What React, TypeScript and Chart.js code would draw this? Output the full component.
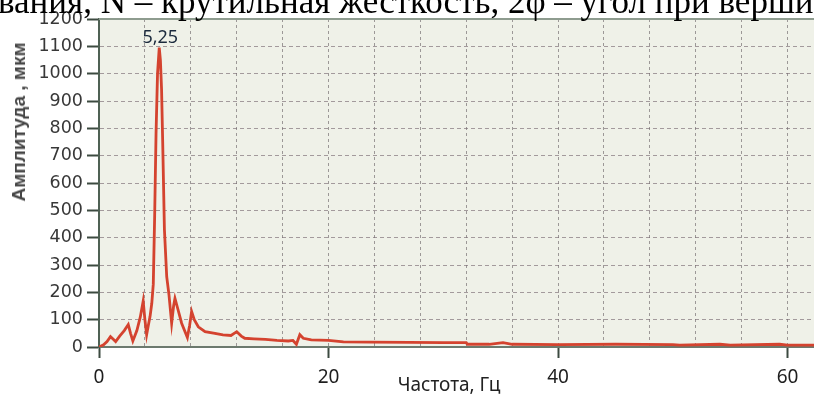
import React, { useEffect, useRef } from 'react';
import { Chart, registerables } from 'chart.js';

Chart.register(...registerables);

// Frequency (Hz) and amplitude (µm)
const freqs = [0, 0.4, 0.7, 1.0, 1.2, 1.45, 1.8, 2.2, 2.55, 2.75, 2.95, 3.3, 3.6, 3.85, 4.0, 4.15, 4.3, 4.45, 4.6, 4.73, 4.85, 4.97, 5.1, 5.25, 5.35, 5.45, 5.55, 5.7, 5.9, 6.1, 6.33, 6.5, 6.62, 6.8, 7.2, 7.7, 7.9, 8.07, 8.3, 8.65, 9.24, 10.1, 10.8, 11.5, 12.0, 12.4, 12.7, 13.5, 14.5, 15.5, 16.5, 16.9, 17.2, 17.5, 17.8, 18.5, 20, 21.3, 23.6, 27, 30, 32, 32.1, 34, 35.2, 36, 40, 45, 50, 50.6, 54.1, 55, 59.3, 60, 62.3];
const amps = [0, 8, 20, 38, 30, 20, 40, 60, 82, 50, 22, 60, 110, 168, 100, 45, 80, 112, 160, 230, 480, 780, 1000, 1095, 1050, 945, 750, 430, 257, 190, 87, 150, 178, 150, 87, 35, 80, 130, 100, 74, 56, 50, 44, 42, 56, 40, 32, 30, 28, 24, 22, 24, 10, 45, 32, 26, 24, 19, 18, 17, 16, 16, 10, 10, 16, 10, 9, 10, 9, 7, 10, 7, 10, 7, 7];

const xMin = 0;
const xMax = 62.3;
const xGridStep = 4;
const xLabelStep = 20;
const yMin = 0;
const yMax = 1200;
const yStep = 100;

const headerText = 'вания, N – крутильная жесткость, 2φ – угол при верши';
const yTitle = 'Амплитуда , мкм';
const xTitle = 'Частота, Гц';

export default function App() {
  const ref = useRef<HTMLCanvasElement | null>(null);

  useEffect(() => {
    if (!ref.current) return;
    const data = freqs.map((f, i) => ({ x: f, y: amps[i] }));

    const bgPlugin = {
      id: 'plotBg',
      beforeDraw(chart: any) {
        const { ctx, chartArea } = chart;
        ctx.save();
        ctx.fillStyle = '#eff1e8';
        ctx.fillRect(chartArea.left, chartArea.top, chartArea.right - chartArea.left, chartArea.bottom - chartArea.top);
        ctx.restore();
      },
      beforeDatasetsDraw(chart: any) {
        const { ctx, chartArea } = chart;
        ctx.save();
        ctx.strokeStyle = '#8e9c8f';
        ctx.lineWidth = 2;
        ctx.beginPath();
        ctx.moveTo(chartArea.left, chartArea.top);
        ctx.lineTo(chartArea.right, chartArea.top);
        ctx.stroke();
        ctx.restore();
      },
    };

    const peakPlugin = {
      id: 'peakLabel',
      afterDatasetsDraw(chart: any) {
        const meta = chart.getDatasetMeta(0);
        let idx = 0;
        amps.forEach((a, i) => { if (a > amps[idx]) idx = i; });
        const pt = meta.data[idx];
        if (!pt) return;
        const { ctx } = chart;
        ctx.save();
        ctx.font = '18px "Noto Sans"';
        ctx.fillStyle = '#1b2a3d';
        ctx.textAlign = 'center';
        ctx.textBaseline = 'alphabetic';
        ctx.fillText(freqs[idx].toFixed(2).replace('.', ','), pt.x + 1, pt.y - 5);
        ctx.restore();
      },
    };

    const chart = new Chart(ref.current, {
      type: 'line',
      data: {
        datasets: [
          {
            data,
            borderColor: '#d4432f',
            borderWidth: 2.8,
            pointRadius: 0,
            tension: 0,
            fill: false,
          },
        ],
      },
      options: {
        animation: false,
        responsive: false,
        maintainAspectRatio: false,
        layout: { padding: { top: 19, right: 0, bottom: 0, left: 0 } },
        plugins: { legend: { display: false }, tooltip: { enabled: false }, title: { display: false } },
        scales: {
          x: {
            type: 'linear',
            min: xMin,
            max: xMax,
            afterFit: (s: any) => { s.height = 47; },
            ticks: {
              stepSize: xGridStep,
              includeBounds: false,
              autoSkip: false,
              maxRotation: 0,
              padding: 8,
              color: '#1e1e1e',
              font: { family: '"Noto Sans"', size: 19 },
              callback: (v: any) => (Number(v) % xLabelStep === 0 ? String(v) : ''),
            },
            grid: {
              color: (c: any) => (c.tick && c.tick.value === 0 ? 'rgba(0,0,0,0)' : 'rgba(110,104,108,0.65)'),
              lineWidth: 1,
              tickLength: 11,
              tickWidth: 2,
              tickColor: (c: any) => (c.tick && c.tick.value % xLabelStep === 0 ? '#3c4a40' : 'rgba(0,0,0,0)'),
            },
            border: { display: true, color: '#6c7a6e', width: 2, dash: [3, 3] },
          },
          y: {
            type: 'linear',
            min: yMin,
            max: yMax,
            afterFit: (s: any) => { s.width = 99; },
            ticks: {
              stepSize: yStep,
              padding: 4,
              color: '#383838',
              font: { family: '"DejaVu Sans"', size: 17.5 },
              callback: (v: any) => String(v),
            },
            grid: {
              color: (c: any) => (c.tick && (c.tick.value === yMin || c.tick.value === yMax) ? 'rgba(0,0,0,0)' : 'rgba(122,108,115,0.65)'),
              lineWidth: 1,
              tickLength: 12,
              tickWidth: 2,
              tickColor: '#3c4a40',
            },
            border: { display: true, color: '#4f6154', width: 2, dash: [4, 3] },
          },
        },
      },
      plugins: [bgPlugin, peakPlugin],
    } as any);

    return () => chart.destroy();
  }, []);

  return (
    <div style={{ position: 'absolute', left: 0, top: 0, width: 814, height: 394, overflow: 'hidden', background: '#ffffff' }}>
      <canvas ref={ref} width={814} height={394} style={{ display: 'block', position: 'absolute', left: 0, top: 0 }} />
      <div
        style={{
          position: 'absolute', left: -2, top: -16, whiteSpace: 'nowrap',
          fontFamily: '"Liberation Serif", serif', fontSize: 35, lineHeight: '35px', color: '#000',
        }}
      >
        {headerText}
      </div>
      <div
        style={{
          position: 'absolute', left: 19, top: 122, whiteSpace: 'nowrap',
          transform: 'translate(-50%, -50%) rotate(-90deg)',
          fontFamily: '"Liberation Sans", sans-serif', fontSize: 19, fontWeight: 'bold', color: '#454545',
        }}
      >
        {yTitle}
      </div>
      <div
        style={{
          position: 'absolute', left: 449, top: 384, whiteSpace: 'nowrap',
          transform: 'translate(-50%, -50%)',
          fontFamily: '"Noto Sans", sans-serif', fontSize: 19, color: '#222',
        }}
      >
        {xTitle}
      </div>
    </div>
  );
}
